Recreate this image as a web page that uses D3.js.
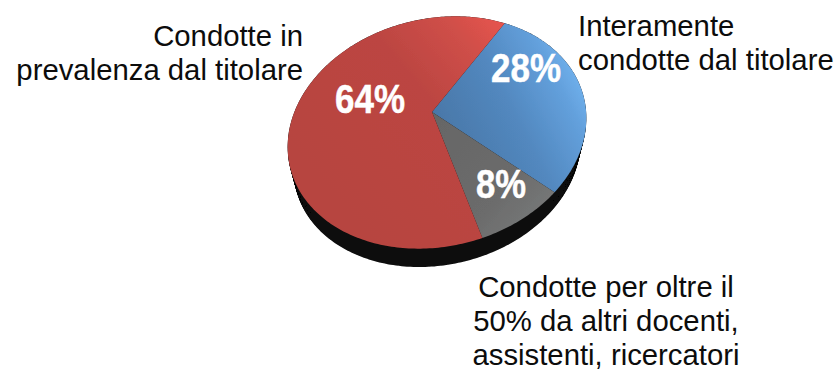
<!DOCTYPE html>
<html><head><meta charset="utf-8">
<script src="https://cdn.jsdelivr.net/npm/d3@7"></script>
<style>html,body{margin:0;background:#fff}svg{display:block}</style>
</head><body><div id="chart"></div>
<script>
const categories = ["Interamente condotte dal titolare", "Condotte per oltre il 50% da altri docenti, assistenti, ricercatori", "Condotte in prevalenza dal titolare"];
const shares = [28, 8, 64];
const shareLabels = ["28%", "8%", "64%"];
const captionLines = [
  ["Interamente", "condotte dal titolare"],
  ["Condotte per oltre il", "50% da altri docenti,", "assistenti, ricercatori"],
  ["Condotte in", "prevalenza dal titolare"]
];

const W = 836, H = 370;
const svg = d3.select("#chart").append("svg").attr("width", W).attr("height", H);
const defs = svg.append("defs");

// Tilted disc: an ellipse on screen, with the pie hub pushed off its centre by perspective.
const disc = {cx: 437, cy: 132.5, a: 151, b: 114, rot: -13 * Math.PI / 180};
const hub = {x: 432, y: 112};
const depth = 23, underShrink = 0.04, startAngle = 0.765;

function toEllipse(u, v) {
  const x = disc.a * u, y = disc.b * v;
  return [disc.cx + x * Math.cos(disc.rot) - y * Math.sin(disc.rot),
          disc.cy + x * Math.sin(disc.rot) + y * Math.cos(disc.rot)];
}
function fromEllipse(px, py) {
  const dx = px - disc.cx, dy = py - disc.cy;
  const x = dx * Math.cos(disc.rot) + dy * Math.sin(disc.rot);
  const y = -dx * Math.sin(disc.rot) + dy * Math.cos(disc.rot);
  return [x / disc.a, y / disc.b];
}
// Projective map of the unit disc onto itself that carries its centre to the hub.
const h = fromEllipse(hub.x, hub.y);
const hd = Math.hypot(h[0], h[1]), hc = h[0] / hd, hs = h[1] / hd;
function project(u, v) {
  const r = u * hc + v * hs, t = -u * hs + v * hc;
  const k = 1 + hd * r;
  const r2 = (r + hd) / k, t2 = t * Math.sqrt(1 - hd * hd) / k;
  return toEllipse(r2 * hc - t2 * hs, r2 * hs + t2 * hc);
}
const onDisc = (angle, radius = 1) => project(radius * Math.sin(angle), -radius * Math.cos(angle));

const pie = d3.pie().sort(null).startAngle(startAngle).endAngle(startAngle + 2 * Math.PI);
const arcs = pie(shares);
const line = d3.line().curve(d3.curveLinearClosed);
function wedge(d) {
  const pts = [onDisc(d.startAngle, 0)];
  const steps = Math.ceil((d.endAngle - d.startAngle) * 60);
  d3.range(steps + 1).forEach(i => pts.push(onDisc(d.startAngle + (d.endAngle - d.startAngle) * i / steps)));
  return line(pts);
}
const rimPath = line(d3.range(360).map(i => onDisc(i * Math.PI / 180)));

function gradient(id, x1, y1, x2, y2, stops) {
  const g = defs.append("linearGradient").attr("id", id).attr("gradientUnits", "userSpaceOnUse")
    .attr("x1", x1).attr("y1", y1).attr("x2", x2).attr("y2", y2);
  stops.forEach(([o, c]) => g.append("stop").attr("offset", o).attr("stop-color", c));
}
gradient("g0", 450, 140, 585, 70, [[0, "#4a78a9"], [0.45, "#5288bf"], [0.8, "#63a0dc"], [1, "#74b6f2"]]);
gradient("g1", 440, 120, 560, 225, [[0, "#666666"], [0.6, "#6c6c6c"], [1, "#7a7d7d"]]);
gradient("g2", 320, 180, 510, 20, [[0, "#b74440"], [0.55, "#bc4542"], [0.8, "#cf4f48"], [1, "#ea5450"]]);
defs.append("filter").attr("id", "soft").append("feGaussianBlur").attr("stdDeviation", 0.6);

// Underside of the disc: the outline swept downward, narrowing slightly with depth.
const side = svg.append("g").attr("filter", "url(#soft)");
d3.range(depth, -1, -1).forEach(i => {
  const s = 1 - underShrink * i / depth;
  side.append("path").attr("d", rimPath)
    .attr("transform", `translate(${disc.cx},${disc.cy + i}) scale(${s}) translate(${-disc.cx},${-disc.cy})`)
    .attr("fill", "#0a0a0a");
});

const face = svg.append("g").attr("filter", "url(#soft)");
face.selectAll("path").data(arcs).join("path")
  .attr("d", wedge).attr("fill", (d, i) => `url(#g${i})`);

// Slice percentages
const labelAt = [[526, 82], [501, 198], [370, 113]];
svg.append("g").selectAll("text").data(shareLabels).join("text")
  .attr("x", (d, i) => labelAt[i][0]).attr("y", (d, i) => labelAt[i][1])
  .attr("text-anchor", "middle")
  .attr("font-family", "'Liberation Sans', Arial, sans-serif").attr("font-weight", 700)
  .attr("font-size", 40).attr("fill", "#fff")
  .attr("stroke", "#fff").attr("stroke-width", 0.5)
  .attr("textLength", (d, i) => [70, 50, 70][i]).attr("lengthAdjust", "spacingAndGlyphs")
  .text(d => d);

// Captions
const captionStyle = [
  {x: 578, y: 36, anchor: "start"},
  {x: 606, y: 297, anchor: "middle"},
  {x: 303, y: 46, anchor: "end"}
];
const captions = svg.append("g").attr("font-family", "'Liberation Sans', Arial, sans-serif")
  .attr("font-size", 29.3).attr("fill", "#0c0c0c");
captionLines.forEach((lines, i) => {
  const c = captionStyle[i];
  captions.append("text").attr("text-anchor", c.anchor).selectAll("tspan").data(lines).join("tspan")
    .attr("x", c.x).attr("y", (d, j) => c.y + j * 34).text(d => d);
});
</script></body></html>
